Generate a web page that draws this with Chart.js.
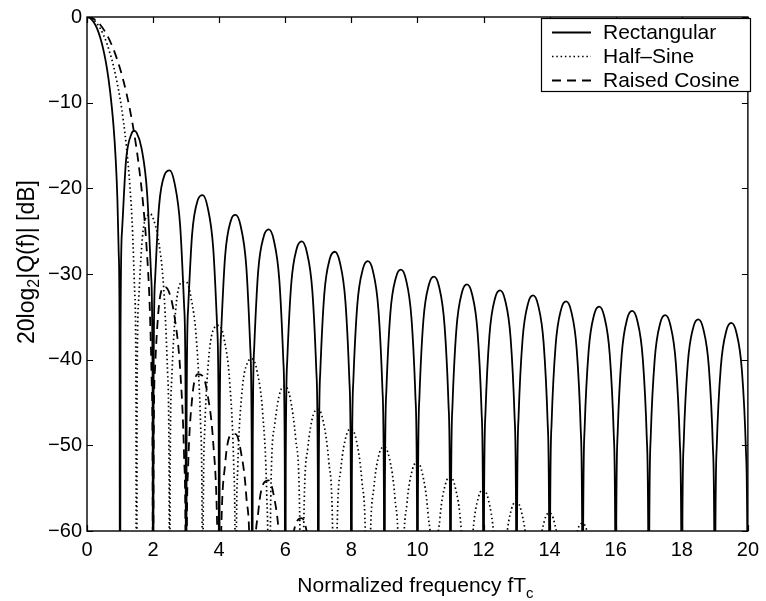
<!DOCTYPE html>
<html>
<head>
<meta charset="utf-8">
<script src="https://cdn.jsdelivr.net/npm/chart.js@4"></script>
<style>
  body { margin: 0; background: #fff; }
  #wrap { width: 766px; height: 601px; }
</style>
</head>
<body>
<div id="wrap"><canvas id="specChart" width="766" height="601"></canvas></div>
<script>
// tick values
const xTicks = [0, 2, 4, 6, 8, 10, 12, 14, 16, 18, 20];
const yTicks = [0, -10, -20, -30, -40, -50, -60];

// Rectangular pulse spectrum (dB); nulls drop out of view
const rectX = [
  0, 0.1, 0.2, 0.3, 0.4, 0.5, 0.6, 0.7, 0.8, 0.87, 0.92, 0.96, 0.985, 1,
  1.015, 1.06, 1.18, 1.35, 1.43, 1.5, 1.65, 1.82, 1.94, 1.985, 2,
  2.015, 2.06, 2.18, 2.35, 2.5, 2.65, 2.82, 2.94, 2.985, 3,
  3.015, 3.06, 3.18, 3.35, 3.5, 3.65, 3.82, 3.94, 3.985, 4,
  4.015, 4.06, 4.18, 4.35, 4.5, 4.65, 4.82, 4.94, 4.985, 5,
  5.015, 5.06, 5.18, 5.35, 5.5, 5.65, 5.82, 5.94, 5.985, 6,
  6.015, 6.06, 6.18, 6.35, 6.5, 6.65, 6.82, 6.94, 6.985, 7,
  7.015, 7.06, 7.18, 7.35, 7.5, 7.65, 7.82, 7.94, 7.985, 8,
  8.015, 8.06, 8.18, 8.35, 8.5, 8.65, 8.82, 8.94, 8.985, 9,
  9.015, 9.06, 9.18, 9.35, 9.5, 9.65, 9.82, 9.94, 9.985, 10,
  10.015, 10.06, 10.18, 10.35, 10.5, 10.65, 10.82, 10.94, 10.985, 11,
  11.015, 11.06, 11.18, 11.35, 11.5, 11.65, 11.82, 11.94, 11.985, 12,
  12.015, 12.06, 12.18, 12.35, 12.5, 12.65, 12.82, 12.94, 12.985, 13,
  13.015, 13.06, 13.18, 13.35, 13.5, 13.65, 13.82, 13.94, 13.985, 14,
  14.015, 14.06, 14.18, 14.35, 14.5, 14.65, 14.82, 14.94, 14.985, 15,
  15.015, 15.06, 15.18, 15.35, 15.5, 15.65, 15.82, 15.94, 15.985, 16,
  16.015, 16.06, 16.18, 16.35, 16.5, 16.65, 16.82, 16.94, 16.985, 17,
  17.015, 17.06, 17.18, 17.35, 17.5, 17.65, 17.82, 17.94, 17.985, 18,
  18.015, 18.06, 18.18, 18.35, 18.5, 18.65, 18.82, 18.94, 18.985, 19,
  19.015, 19.06, 19.18, 19.35, 19.5, 19.65, 19.82, 19.94, 19.985, 20
];
const rectY = [
  0, -0.14, -0.58, -1.3, -2.4, -3.9, -5.9, -8.7, -12.6, -16.7, -21.3, -27.6, -36.4, -90,
  -36.6, -25.0, -16.8, -13.6, -13.3, -13.5, -15.3, -20.6, -30.2, -42.4, -90,
  -42.5, -30.7, -22.1, -18.4, -17.9, -19.4, -24.4, -33.8, -45.9, -90,
  -46.0, -34.1, -25.4, -21.4, -20.8, -22.2, -27.0, -36.3, -48.4, -90,
  -48.7, -36.8, -27.9, -23.8, -23.1, -24.4, -29.1, -38.5, -50.5, -90,
  -50.5, -38.6, -29.7, -25.6, -24.8, -26.0, -30.7, -40.0, -52.1, -90,
  -52.1, -40.1, -31.2, -27.0, -26.2, -27.4, -32.0, -41.3, -53.4, -90,
  -53.3, -41.4, -32.4, -28.2, -27.4, -28.6, -33.2, -42.4, -54.5, -90,
  -54.5, -42.5, -33.6, -29.4, -28.5, -29.6, -34.2, -43.4, -55.5, -90,
  -55.6, -43.6, -34.6, -30.4, -29.5, -30.6, -35.2, -44.4, -56.4, -90,
  -56.4, -44.4, -35.4, -31.2, -30.3, -31.4, -36.0, -45.2, -57.2, -90,
  -57.3, -45.4, -36.4, -32.1, -31.2, -32.3, -36.8, -46.0, -58.1, -90,
  -58.1, -46.1, -37.1, -32.8, -31.9, -33.0, -37.5, -46.7, -58.7, -90,
  -58.7, -46.7, -37.7, -33.4, -32.5, -33.6, -38.1, -47.3, -59.3, -90,
  -59.4, -47.4, -38.4, -34.1, -33.2, -34.3, -38.8, -48.0, -60.0, -90,
  -60.0, -48.0, -39.0, -34.7, -33.8, -34.9, -39.4, -48.6, -60.6, -90,
  -60.5, -48.5, -39.5, -35.2, -34.3, -35.4, -39.9, -49.1, -61.1, -90,
  -61.0, -49.0, -40.0, -35.7, -34.8, -35.9, -40.4, -49.6, -61.6, -90,
  -61.5, -49.5, -40.5, -36.2, -35.3, -36.4, -40.9, -50.1, -62.1, -90,
  -61.9, -49.9, -40.9, -36.6, -35.7, -36.8, -41.3, -50.5, -62.5, -90
];

// Half-sine pulse spectrum (dB)
const halfSineX = [
  0, 0.2, 0.4, 0.5, 0.6, 0.8, 1.0, 1.1, 1.2, 1.3, 1.38, 1.44, 1.48, 1.5,
  1.515, 1.56, 1.68, 1.85, 1.92, 2.0, 2.15, 2.32, 2.44, 2.485, 2.5,
  2.515, 2.56, 2.68, 2.85, 3, 3.15, 3.32, 3.44, 3.485, 3.5,
  3.515, 3.56, 3.68, 3.85, 4, 4.15, 4.32, 4.44, 4.485, 4.5,
  4.515, 4.56, 4.68, 4.85, 5, 5.15, 5.32, 5.44, 5.485, 5.5,
  5.56, 5.68, 5.85, 6, 6.15, 6.32, 6.44, 6.5,
  6.56, 6.68, 6.85, 7, 7.15, 7.32, 7.44, 7.5,
  7.56, 7.68, 7.85, 8, 8.15, 8.32, 8.44, 8.5,
  8.56, 8.68, 8.85, 9, 9.15, 9.32, 9.44, 9.5,
  9.56, 9.68, 9.85, 10, 10.15, 10.32, 10.44, 10.5,
  10.56, 10.68, 10.85, 11, 11.15, 11.32, 11.44, 11.5,
  11.56, 11.68, 11.85, 12, 12.15, 12.32, 12.44, 12.5,
  12.56, 12.68, 12.85, 13, 13.15, 13.32, 13.44, 13.5,
  13.56, 13.68, 13.85, 14, 14.15, 14.32, 14.44, 14.5,
  14.56, 14.68, 14.85, 15, 15.15, 15.32, 15.5
];
const halfSineY = [
  0, -0.33, -1.33, -2.1, -3.07, -5.7, -9.5, -12.1, -15.4, -19.8, -25.1, -31.8, -41.8, -90,
  -44.7, -33.3, -25.6, -23.1, -23.0, -23.5, -25.8, -31.6, -41.6, -54.0, -90,
  -54.2, -42.6, -34.3, -31.0, -30.9, -32.8, -38.1, -47.8, -60.1, -90,
  -60.3, -48.5, -40.0, -36.3, -36.0, -37.6, -42.7, -52.3, -64.5, -90,
  -64.6, -52.8, -44.2, -40.4, -39.9, -41.4, -46.4, -55.9, -68.0, -90,
  -56.3, -47.6, -43.7, -43.1, -44.5, -49.4, -58.8, -90,
  -59.2, -50.4, -46.4, -45.8, -47.2, -52.0, -61.4, -90,
  -61.6, -52.8, -48.8, -48.1, -49.4, -54.2, -63.5, -90,
  -63.8, -55.0, -50.9, -50.2, -51.5, -56.2, -65.5, -90,
  -65.6, -56.9, -52.8, -52.0, -53.3, -58.0, -67.0, -90,
  -67.3, -58.6, -54.5, -53.7, -55.0, -59.6, -68.7, -90,
  -68.8, -60.2, -56.0, -55.2, -56.4, -61.0, -70.0, -90,
  -70.2, -61.6, -57.4, -56.6, -57.8, -62.4, -71.4, -90,
  -71.5, -62.9, -58.7, -57.9, -59.1, -63.6, -72.7, -90,
  -72.7, -64.1, -59.9, -59.1, -60.3, -64.8, -90
];

// Raised cosine pulse spectrum (dB)
const raisedCosX = [
  0, 0.2, 0.4, 0.6, 0.8, 1.0, 1.2, 1.4, 1.55, 1.7, 1.8, 1.9, 1.96, 1.985, 2,
  2.015, 2.06, 2.18, 2.35, 2.5, 2.65, 2.82, 2.94, 2.985, 3,
  3.015, 3.06, 3.18, 3.35, 3.5, 3.65, 3.82, 3.94, 3.985, 4,
  4.015, 4.06, 4.18, 4.35, 4.5, 4.65, 4.82, 4.94, 5,
  5.06, 5.18, 5.35, 5.5, 5.65, 5.82, 5.94, 6,
  6.06, 6.18, 6.35, 6.5, 6.65, 6.82, 7
];
const raisedCosY = [
  0, -0.22, -0.91, -2.07, -3.75, -6.02, -9.0, -12.95, -16.8, -21.9, -26.7, -34.0, -42.9, -51.8, -90,
  -52.2, -40.9, -33.6, -31.5, -32.3, -35.0, -41.2, -51.5, -63.9, -90,
  -64.2, -52.6, -44.6, -41.7, -41.9, -44.1, -49.7, -59.6, -71.9, -90,
  -73.0, -60.5, -52.2, -48.8, -48.7, -50.6, -55.9, -65.6, -90,
  -66.4, -57.9, -54.4, -54.1, -55.8, -61.0, -70.6, -90,
  -71.0, -62.6, -58.9, -58.5, -60.1, -65.2, -90
];

const seriesNames = ['Rectangular', 'Half\u2013Sine', 'Raised Cosine'];
const FONT = '"Liberation Sans", Arial, Helvetica, sans-serif';

const toPoints = (xs, ys) => xs.map((x, i) => ({ x: x, y: ys[i] }));
const minus = v => String(v).replace('-', '\u2212');

// frame with inward ticks, axis titles and the boxed legend
const matlabAxes = {
  id: 'matlabAxes',
  afterDraw(chart) {
    const { ctx, chartArea: a, scales } = chart;
    const xs = scales.x, ys = scales.y;
    ctx.save();
    ctx.strokeStyle = '#000';
    ctx.lineWidth = 1.4;
    ctx.strokeRect(a.left, a.top, a.right - a.left, a.bottom - a.top);

    ctx.lineWidth = 1.2;
    ctx.beginPath();
    xTicks.forEach(v => {
      const px = Math.round(xs.getPixelForValue(v)) + 0.5;
      ctx.moveTo(px, a.bottom); ctx.lineTo(px, a.bottom - 6);
      ctx.moveTo(px, a.top); ctx.lineTo(px, a.top + 6);
    });
    yTicks.forEach(v => {
      const py = Math.round(ys.getPixelForValue(v)) + 0.5;
      ctx.moveTo(a.left, py); ctx.lineTo(a.left + 6, py);
      ctx.moveTo(a.right, py); ctx.lineTo(a.right - 6, py);
    });
    ctx.stroke();

    ctx.fillStyle = '#000';
    ctx.textBaseline = 'alphabetic';
    ctx.textAlign = 'left';

    // x title with subscript c
    const xMain = 'Normalized frequency fT';
    ctx.font = '21px ' + FONT;
    const wMain = ctx.measureText(xMain).width;
    ctx.font = '15px ' + FONT;
    const wSub = ctx.measureText('c').width;
    const tx = (a.left + a.right) / 2 - (wMain + wSub) / 2 - 2;
    ctx.font = '21px ' + FONT;
    ctx.fillText(xMain, tx, 592);
    ctx.font = '15px ' + FONT;
    ctx.fillText('c', tx + wMain, 598);

    // y title with subscript 2
    ctx.save();
    ctx.translate(34, 262);
    ctx.rotate(-Math.PI / 2);
    const p1 = '20log', p2 = '2', p3 = '|Q(f)| [dB]';
    ctx.font = '23px ' + FONT;
    const w1 = ctx.measureText(p1).width, w3 = ctx.measureText(p3).width;
    ctx.font = '16px ' + FONT;
    const w2 = ctx.measureText(p2).width;
    const sx = -(w1 + w2 + w3) / 2;
    ctx.font = '23px ' + FONT;
    ctx.fillText(p1, sx, 0);
    ctx.font = '16px ' + FONT;
    ctx.fillText(p2, sx + w1, 5);
    ctx.font = '23px ' + FONT;
    ctx.fillText(p3, sx + w1 + w2, 0);
    ctx.restore();

    // legend
    const box = { l: 541.5, t: 18.5, r: 750.5, b: 91.5 };
    ctx.fillStyle = '#fff';
    ctx.fillRect(box.l, box.t, box.r - box.l, box.b - box.t);
    ctx.lineWidth = 1.2;
    ctx.strokeRect(box.l, box.t, box.r - box.l, box.b - box.t);
    const rows = [32, 56, 80];
    chart.data.datasets.forEach((ds, i) => {
      ctx.beginPath();
      ctx.setLineDash(ds.borderDash || []);
      ctx.lineWidth = ds.borderWidth;
      ctx.moveTo(552, rows[i] + 0.5);
      ctx.lineTo(591, rows[i] + 0.5);
      ctx.stroke();
      ctx.setLineDash([]);
      ctx.fillStyle = '#000';
      ctx.font = '21px ' + FONT;
      ctx.textBaseline = 'middle';
      ctx.fillText(seriesNames[i], 603, rows[i] + 1);
    });
    ctx.restore();
  }
};

const ctx = document.getElementById('specChart').getContext('2d');
new Chart(ctx, {
  type: 'line',
  data: {
    datasets: [
      { label: seriesNames[0], data: toPoints(rectX, rectY), borderColor: '#000', borderWidth: 1.8 },
      { label: seriesNames[1], data: toPoints(halfSineX, halfSineY), borderColor: '#000', borderWidth: 1.7, borderDash: [1.5, 2.8] },
      { label: seriesNames[2], data: toPoints(raisedCosX, raisedCosY), borderColor: '#000', borderWidth: 1.8, borderDash: [9, 6] }
    ]
  },
  options: {
    responsive: false,
    animation: false,
    layout: { padding: { top: 11, right: 11, left: 0, bottom: 0 } },
    elements: {
      point: { radius: 0 },
      line: { cubicInterpolationMode: 'monotone', fill: false }
    },
    plugins: {
      legend: { display: false },
      tooltip: { enabled: false }
    },
    scales: {
      x: {
        type: 'linear',
        min: 0,
        max: 20,
        afterBuildTicks: s => { s.ticks = xTicks.map(v => ({ value: v })); },
        afterFit: s => { s.height = 70; },
        grid: { display: false, drawTicks: false },
        border: { display: false },
        ticks: { color: '#000', font: { family: FONT, size: 20 }, padding: 7, maxRotation: 0 }
      },
      y: {
        min: -60,
        max: 0,
        afterBuildTicks: s => { s.ticks = yTicks.map(v => ({ value: v })); },
        afterFit: s => { s.width = 87; },
        grid: { display: false, drawTicks: false },
        border: { display: false },
        ticks: { color: '#000', font: { family: FONT, size: 20 }, padding: 5, callback: v => minus(v) }
      }
    }
  },
  plugins: [matlabAxes]
});
</script>
</body>
</html>
